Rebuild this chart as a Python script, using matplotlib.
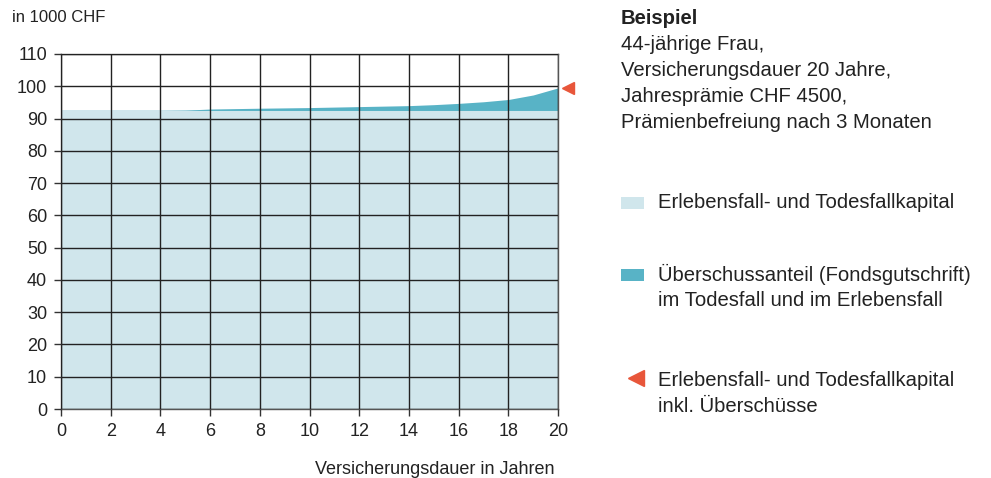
import numpy as np
import matplotlib.pyplot as plt
from matplotlib.lines import Line2D
from matplotlib.patches import Rectangle

plt.rcParams['font.family'] = ['Liberation Sans', 'DejaVu Sans']

# values in 1000 CHF
years = [0, 2, 4, 5, 6, 8, 10, 12, 14, 15, 16, 17, 18, 19, 20]
garantiert = [92.5, 92.5, 92.5, 92.5, 92.5, 92.5, 92.5, 92.5, 92.5, 92.5, 92.5, 92.5, 92.5, 92.5, 92.5]
total = [92.5, 92.5, 92.5, 92.6, 92.95, 93.2, 93.4, 93.7, 94.0, 94.3, 94.7, 95.2, 95.9, 97.3, 99.5]
endwert = 99.5

light = '#d0e6ec'
dark = '#58b3c6'
orange = '#e8563a'
txt = '#222222'

fig = plt.figure(figsize=(9.91, 4.78), dpi=100)
ax = fig.add_axes([61/991, 1-409/478, 497/991, 355/478])

ax.fill_between(years, 0, garantiert, color=light, lw=0, zorder=1)
ax.fill_between(years, garantiert, total, color=dark, lw=0, zorder=1)
ax.plot([20.4], [endwert], marker='<', color=orange, ms=9, clip_on=False, ls='none', zorder=5)

ax.set_xlim(0, 20)
ax.set_ylim(0, 110)
ax.set_xticks(range(0, 21, 2))
ax.set_yticks(range(0, 111, 10))
ax.grid(True, color='#222222', lw=1, zorder=2)
ax.set_axisbelow(False)
for s in ax.spines.values():
    s.set_color('#555555')
    s.set_linewidth(1)
ax.tick_params(axis='both', labelsize=13, colors='#333333', labelcolor=txt, length=5, width=1)
ax.tick_params(axis='x', pad=5)
ax.tick_params(axis='y', pad=5)

fig.text(12/991, 1-18/478, 'in 1000 CHF', fontsize=12, color=txt, va='center')
fig.text(435/991, 1-469/478, 'Versicherungsdauer in Jahren', fontsize=13, color=txt,
         ha='center', va='center')

fs = 14.6
x0 = 621/991
fig.text(x0, 1-18/478, 'Beispiel', fontsize=fs, weight='bold', color=txt, va='center')
info = ['44-jährige Frau,', 'Versicherungsdauer 20 Jahre,', 'Jahresprämie CHF 4500,',
        'Prämienbefreiung nach 3 Monaten']
for i, line in enumerate(info):
    fig.text(x0, 1-(45+i*25.7)/478, line, fontsize=fs, color=txt, va='center')

xt = 658/991
fig.patches.append(Rectangle((x0, 1-209/478), 23/991, 12/478, transform=fig.transFigure,
                             color=light, lw=0))
fig.text(xt, 1-203/478, 'Erlebensfall- und Todesfallkapital', fontsize=fs, color=txt, va='center')

fig.patches.append(Rectangle((x0, 1-281/478), 23/991, 12/478, transform=fig.transFigure,
                             color=dark, lw=0))
fig.text(xt, 1-274/478, 'Überschussanteil (Fondsgutschrift)', fontsize=fs, color=txt, va='center')
fig.text(xt, 1-301/478, 'im Todesfall und im Erlebensfall', fontsize=fs, color=txt, va='center')

fig.lines.append(Line2D([636/991], [1-378/478], marker='<', color=orange, ms=11, ls='none',
                        transform=fig.transFigure))
fig.text(xt, 1-380/478, 'Erlebensfall- und Todesfallkapital', fontsize=fs, color=txt, va='center')
fig.text(xt, 1-407/478, 'inkl. Überschüsse', fontsize=fs, color=txt, va='center')

fig.savefig('out.png', dpi=100)
